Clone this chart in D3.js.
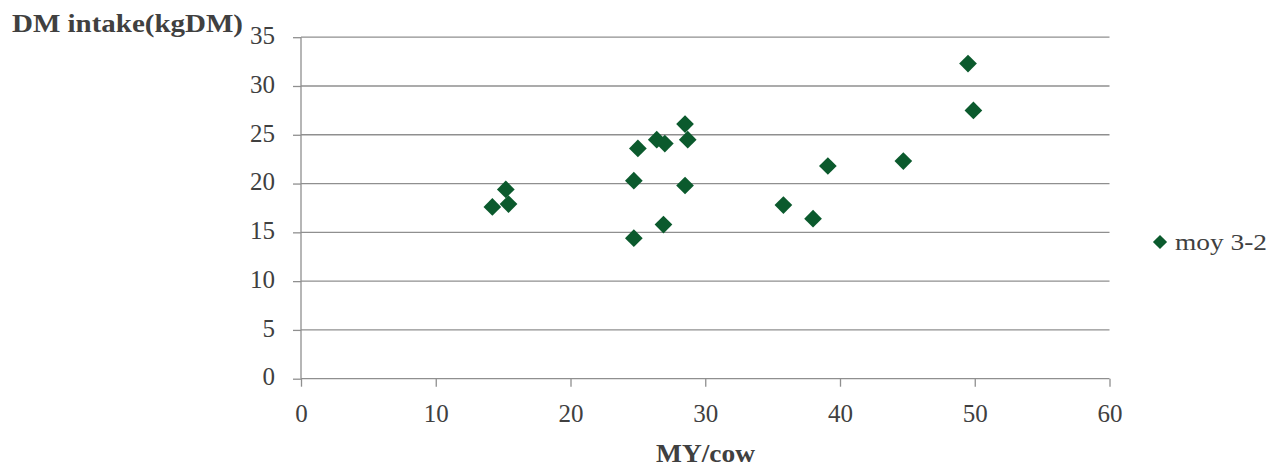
<!DOCTYPE html>
<html>
<head>
<meta charset="utf-8">
<script src="https://cdn.jsdelivr.net/npm/d3@7"></script>
<style>
  html, body { margin: 0; padding: 0; background: #fff; }
  svg { display: block; }
  text { font-family: "Liberation Serif", "DejaVu Serif", serif; fill: #404040; }
</style>
</head>
<body>
<svg id="chart" width="1274" height="467"></svg>
<script>
// Milk yield per cow vs dry-matter intake
const myPerCow = [14.2, 15.2, 15.4, 24.7, 24.7, 25.0, 26.4, 27.0, 26.9, 28.5, 28.7, 28.5, 35.8, 38.0, 39.1, 44.7, 49.5, 49.9];
const dmIntake = [17.6, 19.4, 17.9, 14.4, 20.3, 23.6, 24.5, 24.1, 15.8, 26.1, 24.5, 19.8, 17.8, 16.4, 21.8, 22.3, 32.3, 27.5];
const seriesName = "moy 3-2";
const xTicks = [0, 10, 20, 30, 40, 50, 60];
const yTicks = [0, 5, 10, 15, 20, 25, 30, 35];
const yTitle = "DM intake(kgDM)";
const xTitle = "MY/cow";

const svg = d3.select("#chart");
const plotL = 301, plotR = 1109.5, plotT = 37.2, plotB = 378.7;
const green = "#0b5a2d";
const axisGray = "#8f8f8f";
const fontSize = 25;

const x = d3.scaleLinear().domain([0, 60]).range([plotL, plotR]);
const y = d3.scaleLinear().domain([0, 35]).range([plotB, plotT]);

// horizontal gridlines
svg.append("g").selectAll("line").data(yTicks.filter(d => d > 0)).join("line")
  .attr("x1", plotL).attr("x2", plotR)
  .attr("y1", d => y(d)).attr("y2", d => y(d))
  .attr("stroke", axisGray).attr("stroke-width", 1.3);

// y axis
const yAxis = svg.append("g").attr("transform", `translate(${plotL},0)`)
  .call(d3.axisLeft(y).tickValues(yTicks).tickSize(8).tickPadding(18));
// x axis
const xAxis = svg.append("g").attr("transform", `translate(0,${plotB})`)
  .call(d3.axisBottom(x).tickValues(xTicks).tickSize(8).tickPadding(17.5));

[yAxis, xAxis].forEach(g => {
  g.attr("font-family", null).attr("font-size", null);
  g.select(".domain").attr("stroke", axisGray).attr("stroke-width", 1.3);
  g.selectAll(".tick line").attr("stroke", axisGray).attr("stroke-width", 1.3);
  g.selectAll(".tick text").attr("font-size", fontSize).attr("fill", "#404040");
});
yAxis.selectAll(".tick text").attr("dy", "0.25em");
// plain axis lines without end caps
xAxis.select(".domain").attr("d", `M${plotL},0H${plotR}`);
yAxis.select(".domain").attr("d", `M0,${plotB}V${plotT}`);

// points
const diamond = d3.symbol().type(d3.symbolDiamond2).size(200);
svg.append("g").selectAll("path").data(myPerCow.map((v, i) => [v, dmIntake[i]])).join("path")
  .attr("d", diamond)
  .attr("transform", d => `translate(${x(d[0])},${y(d[1])})`)
  .attr("fill", green);

// titles
svg.append("text").attr("x", 12).attr("y", 31.5)
  .attr("font-size", fontSize).attr("font-weight", "bold")
  .attr("textLength", 231).attr("lengthAdjust", "spacingAndGlyphs").text(yTitle);
svg.append("text").attr("x", 656).attr("y", 461.5)
  .attr("font-size", fontSize).attr("font-weight", "bold")
  .attr("textLength", 99).attr("lengthAdjust", "spacingAndGlyphs").text(xTitle);

// legend
const lg = svg.append("g").attr("transform", "translate(1160,242)");
lg.append("path").attr("d", d3.symbol().type(d3.symbolDiamond2).size(128)).attr("fill", green);
lg.append("text").attr("x", 15).attr("y", 8).attr("font-size", 24)
  .attr("textLength", 92).attr("lengthAdjust", "spacingAndGlyphs").text(seriesName);
</script>
</body>
</html>
